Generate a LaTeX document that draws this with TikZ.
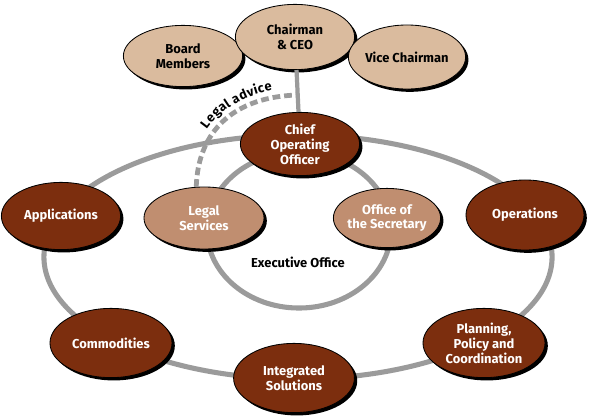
\documentclass[tikz,border=0pt]{standalone}
\usepackage{fontspec}
\setmainfont{Fira Sans}
\usepackage{xcolor}
\usetikzlibrary{shapes.geometric,shadows,decorations.text}

\definecolor{tan}{RGB}{218,187,158}
\definecolor{midtan}{RGB}{192,142,112}
\definecolor{rust}{RGB}{124,46,14}
\definecolor{ring}{RGB}{155,155,155}

\begin{document}
\begin{tikzpicture}[x=0.025cm,y=-0.025cm,
    unit/.style={ellipse,draw=black,line width=0.6pt,inner xsep=-3pt,inner ysep=0pt,
      minimum width=2.98cm,minimum height=1.6cm,align=center,
      font=\fontsize{9.2}{10.6}\selectfont\bfseries,
      drop shadow={shadow xshift=2pt,shadow yshift=-2pt,fill=black,opacity=1}},
    board/.style={unit,fill=tan,text=black},
    office/.style={unit,fill=midtan,text=white},
    division/.style={unit,fill=rust,text=white},
    ringline/.style={draw=ring,line width=3.6pt}]
  \useasboundingbox (0,0) rectangle (590,416);
  % Rings
  \draw[ringline] (298,257) ellipse [x radius=6.35cm,y radius=3.05cm];
  \draw[ringline] (299,230) ellipse [x radius=2.3cm,y radius=1.95cm];
  % Board
  \node[board,minimum height=1.53cm] (members) at (183,56) {Board\\Members};
  \node[board,minimum height=1.63cm] (ceo) at (295,37) {Chairman\\\& CEO};
  \node[board,minimum width=2.93cm] (vice) at (407,57) {Vice Chairman};
  % Executive office
  \node[division,minimum height=1.58cm] (coo) at (300,144) {Chief\\Operating\\Officer};
  \node[office,minimum width=3cm,minimum height=1.55cm] (legal) at (204,218) {Legal\\Services};
  \node[office,minimum width=2.68cm,minimum height=1.48cm] (secretary) at (387,218) {Office of\\the Secretary};
  \node[font=\fontsize{9.2}{10.6}\selectfont\bfseries] (exec) at (298,262) {Executive Office};
  % Divisions
  \node[division,minimum height=1.68cm] (apps) at (61,216) {Applications};
  \node[division,minimum width=2.95cm,minimum height=1.75cm] (ops) at (525,215) {Operations};
  \node[division,minimum width=3.05cm,minimum height=1.73cm] (comm) at (111,343) {Commodities};
  \node[division,minimum width=3.02cm,minimum height=1.73cm] (integ) at (294,378) {Integrated\\Solutions};
  \node[division,minimum width=3.05cm,minimum height=1.73cm] (plan) at (484,343) {Planning,\\Policy and\\Coordination};
  % Reporting line
  \draw[ringline,line width=3pt] (ceo) -- (coo);
  \coordinate (adv) at (297,95);
  \draw[ringline,line width=3.4pt,dash pattern=on 5.5pt off 2.8pt,
    postaction={decorate,decoration={text along path,raise=5pt,text align={left indent=40pt},
      text={|\fontsize{9.2}{10.6}\selectfont\bfseries|Legal advice}}}]
    (legal.104) .. controls (198,130) and (235,97) .. (adv);
\end{tikzpicture}
\end{document}
